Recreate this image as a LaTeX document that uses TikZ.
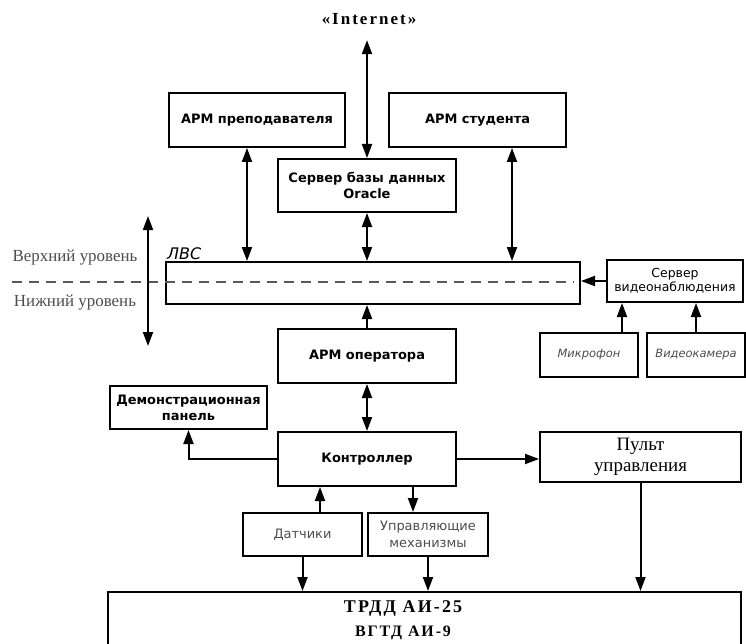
\documentclass[tikz,border=0pt]{standalone}
\usepackage{fontspec}
\setmainfont{Liberation Serif}
\setsansfont{DejaVu Sans}
\newfontfamily\spacedserif[LetterSpace=12]{Liberation Serif}
\usetikzlibrary{arrows.meta}
\tikzset{
  box/.style={draw, line width=2bp, align=center, inner sep=2pt},
  bfbox/.style={box, font=\sffamily\bfseries\fontsize{13}{16}\selectfont},
  rmbox/.style={box, font=\sffamily\fontsize{13}{17}\selectfont, text=black!70},
  itbox/.style={box, font=\sffamily\itshape\fontsize{11.5}{14}\selectfont, text=black!70},
  arr/.style={-{Triangle[length=14bp,width=10bp]}, line width=2bp},
  biarr/.style={{Triangle[length=14bp,width=10bp]}-{Triangle[length=14bp,width=10bp]}, line width=2bp},
  level/.style={font=\fontsize{17}{20}\selectfont, text=black!70}
}
\begin{document}
\begin{tikzpicture}[x=1bp,y=-1bp]
    \useasboundingbox (0,0) rectangle (746,644) ;
    \node[font=\spacedserif\bfseries\fontsize{17}{20}\selectfont] (inet) at (369,19) {«Internet»} ;
    \node[bfbox, minimum width=176bp, minimum height=54bp] (prep) at (257,120) {АРМ преподавателя} ;
    \node[bfbox, minimum width=177bp, minimum height=54bp] (stud) at (477.5,120) {АРМ студента} ;
    \node[bfbox, minimum width=178bp, minimum height=53bp] (orcl) at (367,185.5) {Сервер базы данных\\Oracle} ;
    \node[box, minimum width=414bp, minimum height=42bp] (lvs) at (373,283) {} ;
    \node[font=\sffamily\itshape\fontsize{16}{18}\selectfont, anchor=south west, inner sep=1pt] (lvsname) at (166,261) {ЛВС} ;
    \node[box, font=\sffamily\fontsize{12.5}{14}\selectfont, minimum width=136bp, minimum height=42bp] (vid) at (675,281) {Сервер\\видеонаблюдения} ;
    \node[itbox, minimum width=98bp, minimum height=44bp] (mic) at (589,355) {Микрофон} ;
    \node[itbox, minimum width=98bp, minimum height=44bp] (cam) at (696,355) {Видеокамера} ;
    \node[bfbox, minimum width=178bp, minimum height=54bp] (oper) at (367,356) {АРМ оператора} ;
    \node[bfbox, minimum width=157bp, minimum height=43bp] (demo) at (188.5,407.5) {Демонстрационная\\панель} ;
    \node[bfbox, minimum width=178bp, minimum height=54bp] (ctrl) at (367,459) {Контроллер} ;
    \node[box, font=\fontsize{19}{21}\selectfont, minimum width=201bp, minimum height=50bp] (pult) at (640.5,457) {Пульт\\управления} ;
    \node[rmbox, minimum width=119bp, minimum height=43bp] (dat) at (302.5,534.5) {Датчики} ;
    \node[rmbox, minimum width=120bp, minimum height=43bp] (mech) at (428,534.5) {Управляющие\\механизмы} ;
    \node[box, minimum width=633bp, minimum height=60bp] (trdd) at (424.5,622) {} ;
    \node[font=\spacedserif\bfseries\fontsize{16}{24}\selectfont, align=center] (trddname) at (403,620) {{\fontsize{18}{24}\selectfont ТРДД АИ-25}\\ВГТД АИ-9} ;
    \node[level] (upper) at (75,258) {Верхний уровень} ;
    \node[level] (lower) at (75,303) {Нижний уровень} ;
    \coordinate (lvtop) at (148,216) ;
    \coordinate (lvbot) at (148,346) ;
    \coordinate (dashl) at (12,282) ;
    \coordinate (dashr) at (574,282) ;
    \draw[line width=2bp, black!65, dash pattern=on 10bp off 7bp] (dashl) -- (dashr) ;
    \draw[biarr] (lvtop) -- (lvbot) ;
    \draw[biarr] ([yshift=-12bp]inet.south -| orcl.north) -- (orcl.north) ;
    \draw[biarr] ([xshift=-10bp]prep.south) -- ([xshift=-10bp]prep.south |- lvs.north) ;
    \draw[biarr] (orcl.south) -- (orcl.south |- lvs.north) ;
    \draw[biarr] ([xshift=34.5bp]stud.south) -- ([xshift=34.5bp]stud.south |- lvs.north) ;
    \draw[arr] (vid.west) -- (vid.west -| lvs.east) ;
    \draw[arr] ([xshift=33bp]mic.north) -- ([xshift=33bp]mic.north |- vid.south) ;
    \draw[arr] (cam.north) -- (cam.north |- vid.south) ;
    \draw[arr] (oper.north) -- (oper.north |- lvs.south) ;
    \draw[biarr] (oper.south) -- (ctrl.north) ;
    \draw[arr] (ctrl.west) -| (demo.south) ;
    \draw[arr] (ctrl.east) -- (ctrl.east -| pult.west) ;
    \draw[arr] ([xshift=17.5bp]dat.north) -- ([xshift=17.5bp]dat.north |- ctrl.south) ;
    \draw[arr] ([xshift=46bp]ctrl.south) -- ([xshift=46bp]ctrl.south |- mech.north) ;
    \draw[arr] (dat.south) -- (dat.south |- trdd.north) ;
    \draw[arr] (mech.south) -- (mech.south |- trdd.north) ;
    \draw[arr] (pult.south) -- (pult.south |- trdd.north) ;
\end{tikzpicture}
\end{document}
